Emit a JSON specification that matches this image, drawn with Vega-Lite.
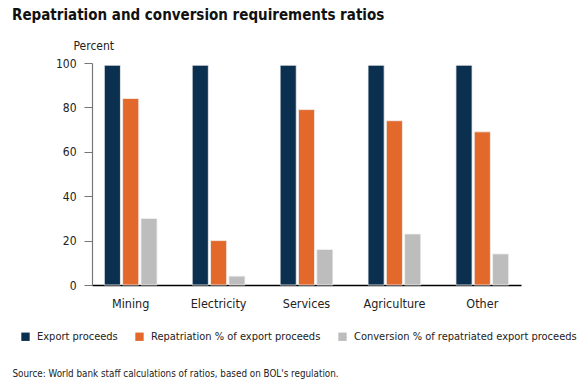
{
  "$schema": "https://vega.github.io/schema/vega-lite/v6.json",
  "width": 429,
  "height": 222,
  "autosize": {"type": "none"},
  "padding": {"left": 92, "top": 63, "right": 66, "bottom": 97},
  "background": "white",
  "config": {"view": {"stroke": null}},
  "title": {
    "text": "Repatriation and conversion requirements ratios",
    "anchor": "start",
    "frame": "group",
    "dx": -80,
    "dy": -12,
    "font": "DejaVu Sans Condensed",
    "fontSize": 15,
    "fontWeight": "bold",
    "color": "#111111"
  },
  "data": {
    "values": [
      {"sector": "Mining", "series": "Export proceeds", "value": 99},
      {"sector": "Mining", "series": "Repatriation % of export proceeds", "value": 84},
      {"sector": "Mining", "series": "Conversion % of repatriated export proceeds", "value": 30},
      {"sector": "Electricity", "series": "Export proceeds", "value": 99},
      {"sector": "Electricity", "series": "Repatriation % of export proceeds", "value": 20},
      {"sector": "Electricity", "series": "Conversion % of repatriated export proceeds", "value": 4},
      {"sector": "Services", "series": "Export proceeds", "value": 99},
      {"sector": "Services", "series": "Repatriation % of export proceeds", "value": 79},
      {"sector": "Services", "series": "Conversion % of repatriated export proceeds", "value": 16},
      {"sector": "Agriculture", "series": "Export proceeds", "value": 99},
      {"sector": "Agriculture", "series": "Repatriation % of export proceeds", "value": 74},
      {"sector": "Agriculture", "series": "Conversion % of repatriated export proceeds", "value": 23},
      {"sector": "Other", "series": "Export proceeds", "value": 99},
      {"sector": "Other", "series": "Repatriation % of export proceeds", "value": 69},
      {"sector": "Other", "series": "Conversion % of repatriated export proceeds", "value": 14}
    ]
  },
  "mark": {"type": "bar", "stroke": "#f2f2f2", "strokeWidth": 0.8},
  "encoding": {
    "x": {
      "field": "sector",
      "type": "nominal",
      "sort": ["Mining", "Electricity", "Services", "Agriculture", "Other"],
      "scale": {"paddingInner": 0.4, "paddingOuter": 0.14},
      "axis": {
        "labelAngle": 0,
        "ticks": false,
        "domainColor": "#000000",
        "domainWidth": 1.5,
        "labelFont": "DejaVu Sans Condensed",
        "labelFontSize": 12.5,
        "labelColor": "#222222",
        "labelPadding": 12,
        "title": "Source: World bank staff calculations of ratios, based on BOL's regulation.",
        "titleFont": "DejaVu Sans Condensed",
        "titleFontSize": 9.8,
        "titleFontWeight": "normal",
        "titleColor": "#222222",
        "titleAnchor": "start",
        "titleAlign": "left",
        "titleX": -80,
        "titleY": 88,
        "titleBaseline": "middle"
      }
    },
    "xOffset": {
      "field": "series",
      "type": "nominal",
      "sort": ["Export proceeds", "Repatriation % of export proceeds", "Conversion % of repatriated export proceeds"],
      "scale": {"paddingInner": 0.12}
    },
    "y": {
      "field": "value",
      "type": "quantitative",
      "scale": {"domain": [0, 100], "nice": false},
      "axis": {
        "values": [0, 20, 40, 60, 80, 100],
        "grid": false,
        "domainColor": "#777777",
        "domainWidth": 1.2,
        "tickColor": "#777777",
        "tickSize": 8,
        "labelPadding": 8,
        "labelFont": "DejaVu Sans Condensed",
        "labelFontSize": 12,
        "labelColor": "#222222",
        "title": "Percent",
        "titleAngle": 0,
        "titleX": -19,
        "titleY": -18,
        "titleAlign": "left",
        "titleBaseline": "middle",
        "titleFont": "DejaVu Sans Condensed",
        "titleFontSize": 12,
        "titleFontWeight": "normal",
        "titleColor": "#222222"
      }
    },
    "color": {
      "field": "series",
      "type": "nominal",
      "sort": ["Export proceeds", "Repatriation % of export proceeds", "Conversion % of repatriated export proceeds"],
      "scale": {
        "domain": ["Export proceeds", "Repatriation % of export proceeds", "Conversion % of repatriated export proceeds"],
        "range": ["#0b2f4e", "#e2692b", "#bdbdbd"]
      },
      "legend": {
        "orient": "none",
        "direction": "horizontal",
        "legendX": -72,
        "legendY": 268,
        "title": null,
        "symbolType": "square",
        "symbolSize": 70,
        "symbolStrokeWidth": 0,
        "labelFont": "DejaVu Sans Condensed",
        "labelFontSize": 11,
        "labelColor": "#222222",
        "columnPadding": 16,
        "labelOffset": 6,
        "labelLimit": 400
      }
    }
  }
}
